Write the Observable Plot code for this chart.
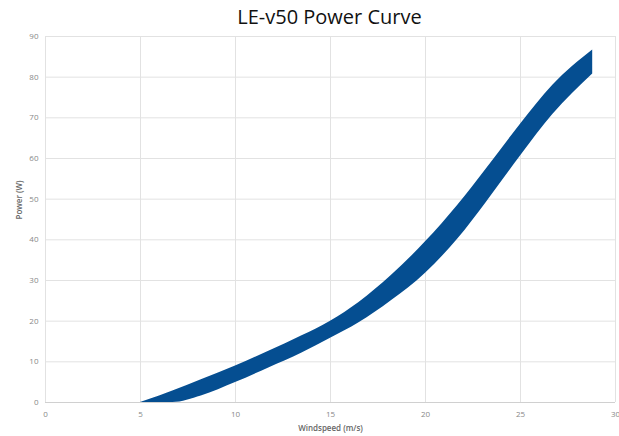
<!DOCTYPE html>
<html>
<head>
<meta charset="utf-8">
<script src="https://cdn.jsdelivr.net/npm/d3@7"></script>
<script src="https://cdn.jsdelivr.net/npm/@observablehq/plot@0.6"></script>
<style>
  html, body { margin: 0; padding: 0; background: #fff; }
  #title { height: 30px; line-height: 34px; text-align: center; font-family: "Open Sans", sans-serif; font-size: 20px; color: #111; padding-left: 40px; box-sizing: border-box; width: 619px; }
</style>
</head>
<body>
<div id="title">LE-v50 Power Curve</div>
<div id="chart"></div>
<script>
const windspeed = [5, 6.0, 6.7, 8.2, 10, 11.75, 13.5, 15, 16.5, 18.2, 20, 21.7, 23.2, 25, 26.7, 28.8];
const powerUpper = [0, 1.6, 2.8, 5.6, 9.0, 12.6, 16.4, 20.0, 24.6, 31.2, 39.5, 48.5, 57.4, 68.4, 78.0, 86.7];
const powerLower = [0, 0, 0, 1.6, 4.9, 8.5, 12.2, 15.8, 19.6, 25.0, 31.8, 40.2, 49.2, 60.6, 70.8, 80.8];
const xTicks = [0, 5, 10, 15, 20, 25, 30];
const yTicks = [0, 10, 20, 30, 40, 50, 60, 70, 80, 90];

const data = windspeed.map((w, i) => ({ w, lo: powerLower[i], hi: powerUpper[i] }));

const chart = Plot.plot({
  width: 619,
  height: 406,
  marginTop: 6,
  marginBottom: 34,
  marginLeft: 45,
  marginRight: 4,
  style: { fontFamily: "Open Sans, sans-serif", fontSize: "8px", color: "#777", background: "#fff" },
  x: { domain: [0, 30] },
  y: { domain: [0, 90] },
  marks: [
    Plot.gridX(xTicks, { stroke: "#e2e2e2", strokeOpacity: 1 }),
    Plot.gridY(yTicks, { stroke: "#e2e2e2", strokeOpacity: 1 }),
    Plot.ruleY([0], { stroke: "#d0d0d0" }),
    Plot.areaY(data, { x: "w", y1: "lo", y2: "hi", fill: "#054e91", curve: "monotone-x" }),
    Plot.axisX(xTicks, { tickSize: 0, tickPadding: 9, fill: "#888", label: null }),
    Plot.axisY(yTicks, { tickSize: 0, tickPadding: 7, fill: "#888", label: null }),
    Plot.text(["Windspeed (m/s)"], { frameAnchor: "bottom", dy: 28, fill: "#666", fontWeight: 600, fontSize: 8 }),
    Plot.text(["Power (W)"], { frameAnchor: "left", dx: -26, rotate: -90, fill: "#666", fontWeight: 600, fontSize: 8 })
  ]
});
document.getElementById("chart").appendChild(chart);
</script>
</body>
</html>
